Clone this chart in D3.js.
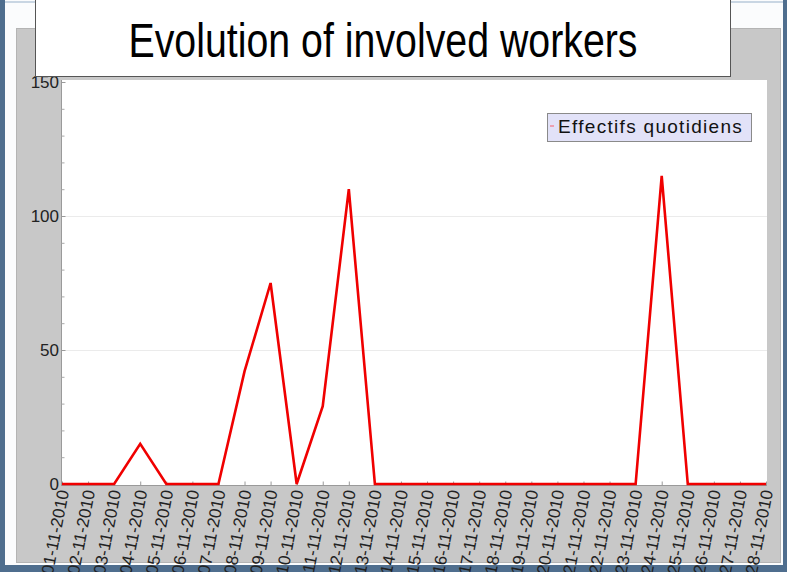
<!DOCTYPE html>
<html>
<head>
<meta charset="utf-8">
<script src="https://cdn.jsdelivr.net/npm/d3@7"></script>
<style>
html,body{margin:0;padding:0;background:#4f6e8e;}
svg{display:block;}
text{font-family:"Liberation Sans",Arial,sans-serif;}
</style>
</head>
<body>
<svg id="chart" width="787" height="572"></svg>
<script>
const title = "Evolution of involved workers";
const seriesName = "Effectifs quotidiens";
const days = ["01-11-2010","02-11-2010","03-11-2010","04-11-2010","05-11-2010","06-11-2010","07-11-2010",
  "08-11-2010","09-11-2010","10-11-2010","11-11-2010","12-11-2010","13-11-2010","14-11-2010",
  "15-11-2010","16-11-2010","17-11-2010","18-11-2010","19-11-2010","20-11-2010","21-11-2010",
  "22-11-2010","23-11-2010","24-11-2010","25-11-2010","26-11-2010","27-11-2010","28-11-2010"];
const workers = [0,0,0,15,0,0,0,42,75,0,29,110,0,0,0,0,0,0,0,0,0,0,0,115,0,0,0,0];
const yTicks = [0,50,100,150];
const yMinorTicks = [10,20,30,40,60,70,80,90,110,120,130,140];

const svg = d3.select("#chart");

// frame
svg.append("rect").attr("x",0).attr("y",0).attr("width",787).attr("height",572).attr("fill","#4f6e8e");
svg.append("rect").attr("x",5).attr("y",0).attr("width",778).attr("height",565).attr("fill","#fbfcfd");
svg.append("line").attr("x1",5).attr("x2",783).attr("y1",2).attr("y2",2).attr("stroke","#c9d6e3").attr("stroke-width",2);
svg.append("rect").attr("x",16.5).attr("y",28.5).attr("width",764).attr("height",534)
  .attr("fill","#c8c8c8").attr("stroke","#b4b4b4").attr("stroke-width",1);

const plot = {left:61, right:767, top:80, bottom:485};
svg.append("rect").attr("x",plot.left).attr("y",plot.top)
  .attr("width",plot.right-plot.left).attr("height",plot.bottom-plot.top).attr("fill","#ffffff");

const x = d3.scalePoint().domain(days).range([62,766]);
const y = d3.scaleLinear().domain([0,150]).range([484,82]);

// gridlines
svg.append("g").selectAll("line").data(yTicks.filter(d=>d>0 && d<150)).join("line")
  .attr("x1",plot.left).attr("x2",plot.right)
  .attr("y1",d=>Math.round(y(d))+0.5).attr("y2",d=>Math.round(y(d))+0.5)
  .attr("stroke","#ebebeb").attr("stroke-width",1);

// y axis
const yAxis = svg.append("g").attr("transform",`translate(${plot.left+0.5},0)`)
  .call(d3.axisRight(y).tickValues(yTicks).tickSize(4).tickFormat(""));
yAxis.select(".domain").attr("stroke","#9a9a9a").attr("d",`M0,${plot.top}V${plot.bottom}`);
yAxis.selectAll(".tick line").attr("stroke","#9a9a9a");
svg.append("g").attr("transform",`translate(${plot.left+0.5},0)`)
  .call(d3.axisRight(y).tickValues(yMinorTicks).tickSize(3).tickFormat(""))
  .call(g=>g.select(".domain").remove())
  .selectAll(".tick line").attr("stroke","#a8a8a8");
svg.append("g").selectAll("text").data(yTicks).join("text")
  .attr("x",59).attr("y",d=>y(d)).attr("dy","0.36em")
  .attr("text-anchor","end").attr("font-size",17).attr("fill","#222")
  .text(d=>d);

// x axis
const xAxis = svg.append("g").attr("transform",`translate(0,${plot.bottom+0.5})`)
  .call(d3.axisTop(x).tickSize(4).tickFormat(""));
xAxis.select(".domain").attr("stroke","#9a9a9a").attr("d",`M${plot.left},0H${plot.right}`);
xAxis.selectAll(".tick line").attr("stroke","#9a9a9a");
svg.append("g").selectAll("text").data(days).join("text")
  .attr("transform",d=>`translate(${x(d)+1},490) rotate(-79)`)
  .attr("dy","0.36em").attr("text-anchor","end")
  .attr("font-size",17).attr("fill","#222")
  .text(d=>d);

// line
const line = d3.line().x((d,i)=>x(days[i])).y(d=>y(d));
svg.append("path").datum(workers).attr("d",line)
  .attr("fill","none").attr("stroke","#f00000").attr("stroke-width",2.6)
  .attr("stroke-linejoin","miter");

// legend
const lg = svg.append("g");
lg.append("rect").attr("x",547.5).attr("y",113.5).attr("width",204).attr("height",28)
  .attr("fill","#e2e2f8").attr("stroke","#8a8a8a");
lg.append("line").attr("x1",550).attr("x2",554).attr("y1",126).attr("y2",126)
  .attr("stroke","#f08a9a").attr("stroke-width",1.5);
lg.append("text").attr("x",558).attr("y",133).attr("font-size",19).attr("fill","#111")
  .attr("letter-spacing","1.3px").text(seriesName);

// title box
svg.append("rect").attr("x",35.5).attr("y",-1).attr("width",695).attr("height",77.5)
  .attr("fill","#ffffff").attr("stroke","#555").attr("stroke-width",1);
svg.append("text").attr("x",383).attr("y",57).attr("text-anchor","middle")
  .attr("font-size",48).attr("fill","#000")
  .attr("textLength",509).attr("lengthAdjust","spacingAndGlyphs")
  .text(title);
</script>
</body>
</html>
